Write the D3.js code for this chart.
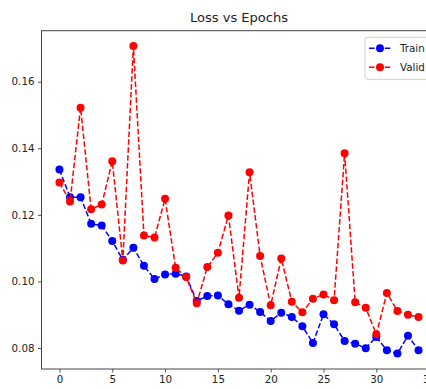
<!DOCTYPE html>
<html>
<head>
<meta charset="utf-8">
<script src="https://cdn.jsdelivr.net/npm/d3@7"></script>
<style>
    body { margin: 0; background: #fff; }
    svg { display: block; font-family: "DejaVu Sans", sans-serif; }
</style>
</head>
<body>
<div id="my_chart"></div>
<script>
// values
const epochs = [0, 1, 2, 3, 4, 5, 6, 7, 8, 9, 10, 11, 12, 13, 14, 15, 16, 17,
    18, 19, 20, 21, 22, 23, 24, 25, 26, 27, 28, 29, 30, 31, 32, 33, 34];
const train_loss = [0.1336, 0.1253, 0.1253, 0.1173, 0.1168, 0.1121, 0.1065, 0.1101, 0.1047,
    0.1007, 0.1021, 0.1023, 0.1015, 0.0941, 0.0956, 0.0958, 0.0931, 0.0912, 0.0930,
    0.0908, 0.0881, 0.0906, 0.0893, 0.0865, 0.0815, 0.0901, 0.0871, 0.0821, 0.0813,
    0.0799, 0.0833, 0.0793, 0.0783, 0.0837, 0.0793];
const valid_loss = [0.1297, 0.1240, 0.1522, 0.1217, 0.1231, 0.1361, 0.1063, 0.1707, 0.1138,
    0.1132, 0.1248, 0.1041, 0.1013, 0.0934, 0.1043, 0.1086, 0.1198, 0.0951, 0.1328,
    0.1076, 0.0928, 0.1069, 0.0939, 0.0907, 0.0948, 0.0961, 0.0943, 0.1385, 0.0937,
    0.0921, 0.0841, 0.0965, 0.0911, 0.0900, 0.0893];
const x_ticks = [0, 5, 10, 15, 20, 25, 30, 35];
const y_ticks = [0.08, 0.10, 0.12, 0.14, 0.16];
const series_names = ["Train", "Valid"];
const series_colors = ["#0000ff", "#ff0000"];
const chart_title = "Loss vs Epochs";

const WIDTH = 426, HEIGHT = 389;
const MARKER_RADIUS = 4;
const DASH = "5.5,2.4";

var svg, x, y, plot;

function init_svg() {
    // axes box, the right side runs past the picture edge like in the reference
    margin = { top: 30.7, left: 41.5, right: 436.5, bottom: 369 };

    svg = d3.select("#my_chart")
        .append("svg")
        .attr("width", WIDTH)
        .attr("height", HEIGHT);

    // matplotlib style 5% padding around the data
    let xmin = d3.min(epochs), xmax = d3.max(epochs);
    let xpad = (xmax - xmin) * 0.05;
    x = d3.scaleLinear()
        .domain([xmin - xpad, xmax + xpad])
        .range([margin.left, margin.right]);

    let all = train_loss.concat(valid_loss);
    let ymin = d3.min(all), ymax = d3.max(all);
    let ypad = (ymax - ymin) * 0.05;
    y = d3.scaleLinear()
        .domain([ymin - ypad, ymax + ypad])
        .range([margin.bottom, margin.top]);

    // title
    svg.append("text")
        .attr("x", (margin.left + margin.right) / 2)
        .attr("y", 22.3)
        .attr("text-anchor", "middle")
        .style("font-size", "13px")
        .style("fill", "#222")
        .text(chart_title);

    // X axis
    let xAxis = svg.append("g")
        .attr("transform", "translate(0," + margin.bottom + ")")
        .call(d3.axisBottom(x).tickValues(x_ticks).tickSize(3.5).tickPadding(3.5).tickFormat(d3.format("d")));

    // Y axis
    let yAxis = svg.append("g")
        .attr("transform", "translate(" + margin.left + ",0)")
        .call(d3.axisLeft(y).tickValues(y_ticks).tickSize(3.5).tickPadding(3.5).tickFormat(d3.format(".2f")));

    [xAxis, yAxis].forEach(function (a) {
        a.select(".domain").remove();
        a.selectAll("line").attr("stroke", "#222").attr("stroke-width", 0.8);
        a.selectAll("text")
            .style("font-family", "DejaVu Sans")
            .style("font-size", "10.3px")
            .attr("fill", "#222");
    });

    // spines
    svg.append("rect")
        .attr("x", margin.left)
        .attr("y", margin.top)
        .attr("width", margin.right - margin.left)
        .attr("height", margin.bottom - margin.top)
        .attr("fill", "none")
        .attr("stroke", "#444")
        .attr("stroke-width", 1);

    plot = svg.append("g");
}

function draw_series(values, color) {
    let line = d3.line()
        .x(function (d, i) { return x(epochs[i]); })
        .y(function (d) { return y(d); });

    let g = plot.append("g");
    g.append("path")
        .datum(values)
        .attr("d", line)
        .attr("fill", "none")
        .attr("stroke", color)
        .attr("stroke-width", 1.5)
        .attr("stroke-dasharray", DASH);

    g.selectAll("circle")
        .data(values)
        .join("circle")
        .attr("cx", function (d, i) { return x(epochs[i]); })
        .attr("cy", function (d) { return y(d); })
        .attr("r", MARKER_RADIUS)
        .attr("fill", color);
}

function draw_legend() {
    let legend = svg.append("g")
        .attr("transform", "translate(365,37.3)");

    legend.append("rect")
        .attr("width", 66)
        .attr("height", 42)
        .attr("rx", 2)
        .attr("fill", "#fff")
        .attr("fill-opacity", 0.8)
        .attr("stroke", "#d0d0d0")
        .attr("stroke-width", 1);

    series_names.forEach(function (name, i) {
        let row = legend.append("g")
            .attr("transform", "translate(0," + (11 + i * 19) + ")");
        row.append("line")
            .attr("x1", 4).attr("x2", 26)
            .attr("stroke", series_colors[i])
            .attr("stroke-width", 1.5)
            .attr("stroke-dasharray", DASH);
        row.append("circle")
            .attr("cx", 15)
            .attr("r", MARKER_RADIUS)
            .attr("fill", series_colors[i]);
        row.append("text")
            .attr("x", 35)
            .attr("dy", "0.35em")
            .style("font-size", "10.3px")
            .style("fill", "#222")
            .text(name);
    });
}

init_svg();
draw_series(train_loss, series_colors[0]);
draw_series(valid_loss, series_colors[1]);
draw_legend();
</script>
</body>
</html>
